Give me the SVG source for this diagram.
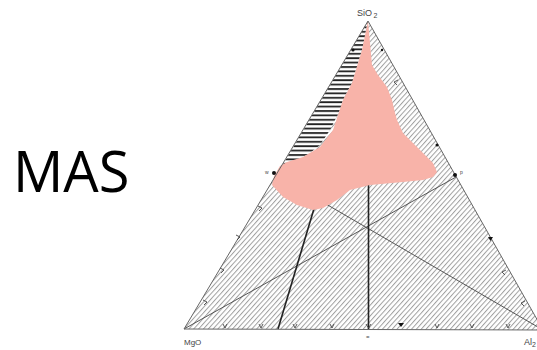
<svg xmlns="http://www.w3.org/2000/svg" width="537" height="350" viewBox="0 0 537 350">
<style>
.lbl{font-family:"Liberation Sans",Arial,sans-serif;fill:#444}
.side{fill:none;stroke:#666;stroke-width:1}
.med{fill:none;stroke:#555;stroke-width:1}
.bold{fill:none;stroke:#222;stroke-width:1.6}
.tick{fill:none;stroke:#444;stroke-width:0.9}
.dot{fill:#111}
</style>
<defs>
<pattern id="diag" width="3.6" height="10" patternUnits="userSpaceOnUse" patternTransform="rotate(42)">
<rect width="3.6" height="10" fill="#fff"/>
<line x1="0.5" y1="0" x2="0.5" y2="10" stroke="#a0a0a0" stroke-width="1"/>
</pattern>
<pattern id="horiz" width="10" height="4.4" patternUnits="userSpaceOnUse">
<rect width="10" height="4.4" fill="#fff"/>
<line x1="0" y1="1" x2="10" y2="1" stroke="#222" stroke-width="1.8"/>
</pattern>
</defs>
<rect width="537" height="350" fill="#fff"/>
<text x="13" y="192" font-family="'Open Sans','Liberation Sans',sans-serif" font-size="56" fill="#000">MAS</text>
<g id="diagram">
<polygon id="triangle" points="368,21 184,329 543,330" fill="url(#diag)" stroke="none"/>
<polygon id="hzone" points="368,21 282,166 297,160 310,153 320,145 330,130 340,110 343,100 352,83 362,50" fill="url(#horiz)"/>
<g id="connectors">
<line class="med" x1="184" y1="329" x2="456" y2="177"/>
<line class="med" x1="543" y1="330" x2="276" y2="175"/>
<line class="bold" x1="368.5" y1="180" x2="368.5" y2="329"/>
<line class="bold" x1="278" y1="329" x2="316" y2="202"/>
</g>
<path id="pink" d="M368,21 L370,43 L372,65 L378,75 L387,87 L392,100 L395,113 L397,120 L403,133 L417,147 L433,163 L437,172 L433,177 L423,180 L403,182 L370,185 L350,190 L337,200 L323,208 L313,210 L297,205 L283,197 L272,185 L274,176 L280,166 L287,162 L303,157 L320,147 L333,130 L343,100 L352,83 L362,50 Z" fill="#F8B3A9"/>
<polygon id="outline" class="side" points="368,21 184,329 543,330"/>
<g id="ticks">
<path class="tick" d="M223,324 l2,4 l2,-4 M259,324 l2,4 l2,-4 M293,324 l2,4 l2,-4 M330,324 l2,4 l2,-4 M366,324 l2.5,4 l2.5,-4 M435,324 l2,4 l2,-4 M470,324 l2,4 l2,-4 M506,324 l2,4 l2,-4"/>
<path class="dot" d="M398,323 h6 l-3,4 z"/>
<path class="tick" d="M236,235 l4,2 l-3,3 M220,268 l4,2 l-3,3 M203,300 l4,2 l-3,3 M258,206 l4,2 l-3,3"/>
<path class="tick" d="M506,270 l-4,2 l3,3 M525,301 l-4,2 l3,3 M398,80 l-4,2 l3,3"/>
<path class="dot" d="M488,237 h5 l-2.5,4 z"/>
<circle class="dot" cx="274" cy="173" r="2"/>
<circle class="dot" cx="455" cy="175" r="2"/>
<circle class="dot" cx="437" cy="145" r="1.5"/>
<circle class="dot" cx="382" cy="50" r="1.2"/>
<circle class="dot" cx="353" cy="50" r="1.6"/>
</g>
<text class="lbl" x="357" y="16" font-size="9">SiO<tspan font-size="7" dx="1.5" dy="2">2</tspan></text>
<text class="lbl" x="184" y="345" font-size="8">MgO</text>
<text class="lbl" x="524" y="345" font-size="9">Al<tspan font-size="7" dy="2">2</tspan></text>
<text class="lbl" x="366" y="339" font-size="6">=</text>
<text class="lbl" x="265" y="174" font-size="5">w</text>
<text class="lbl" x="460" y="174" font-size="5">p</text>
</g>
</svg>
